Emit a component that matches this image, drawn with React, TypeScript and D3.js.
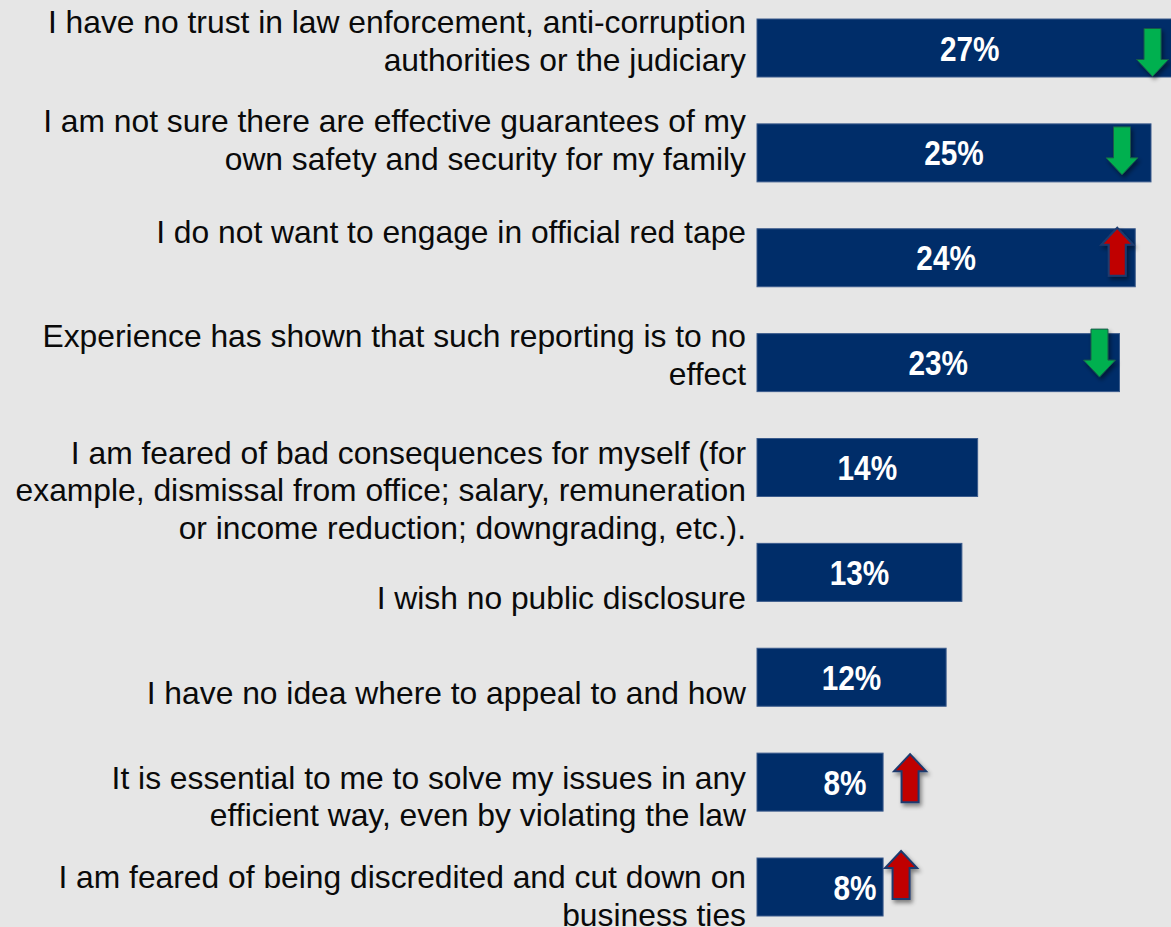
import React from "react";
import * as d3 from "d3";

const categories: string[][] = [
  ["I have no trust in law enforcement, anti-corruption", "authorities or the judiciary"],
  ["I am not sure there are effective guarantees of my", "own safety and security for my family"],
  ["I do not want to engage in official red tape"],
  ["Experience has shown that such reporting is to no", "effect"],
  ["I am feared of bad consequences for myself (for", "example, dismissal from office; salary, remuneration", "or income reduction; downgrading, etc.)."],
  ["I wish no public disclosure"],
  ["I have no idea where to appeal to and how"],
  ["It is essential to me to solve my issues in any", "efficient way, even by violating the law"],
  ["I am feared of being discredited and cut down on", "business ties"],
];
const values: number[] = [27, 25, 24, 23, 14, 13, 12, 8, 8];
const valueLabels: string[] = ["27%", "25%", "24%", "23%", "14%", "13%", "12%", "8%", "8%"];
const trends: (string | null)[] = ["down", "down", "up", "down", null, null, null, "up", "up"];

// layout tweaks (pixels)
const labelDy = [-26, -32, -26, -27, -15, 25, 15, -5, -10];
const valueDx = [0, 0, 0, 0, 0, 0, 0, 25, 35];
const arrowDx = [-30, -29, -18, -20, 0, 0, 0, 27, 18];
const arrowDy = [4.5, -2, -6, -9.5, 0, 0, 0, -4, -12];

const W = 1171;
const H = 927;
const BAR = "#002d69";

function arrowPath(cx: number, cy: number, dir: string) {
  const w = 32, h = 48, hh = 17, sw = 17;
  const s = dir === "down" ? 1 : -1;
  const top = cy - (s * h) / 2;
  const neck = cy + s * (h / 2 - hh);
  const tip = cy + (s * h) / 2;
  return [
    [cx - sw / 2, top],
    [cx + sw / 2, top],
    [cx + sw / 2, neck],
    [cx + w / 2, neck],
    [cx, tip],
    [cx - w / 2, neck],
    [cx - sw / 2, neck],
  ]
    .map((p, i) => (i === 0 ? "M" : "L") + p[0] + "," + p[1])
    .join("") + "Z";
}

export default function App() {
  const x = d3.scaleLinear().domain([0, 25]).range([757, 1151]);
  const y = d3
    .scaleBand<number>()
    .domain(values.map((_, i) => i))
    .range([19, 916])
    .paddingInner(0.447)
    .paddingOuter(0);
  const bw = y.bandwidth();

  return (
    <svg
      width={W}
      height={H}
      style={{ position: "absolute", left: 0, top: 0, background: "#e6e6e6" }}
    >
      <defs>
        <filter id="sh" x="-50%" y="-50%" width="200%" height="200%">
          <feDropShadow dx="2" dy="3" stdDeviation="2" floodColor="#000" floodOpacity="0.45" />
        </filter>
      </defs>
      <rect width={W} height={H} fill="#e6e6e6" />
      {values.map((v, i) => {
        const y0 = y(i)!;
        const cy = y0 + bw / 2;
        const x1 = x(v);
        const lines = categories[i];
        const lx = (x(0) + x1) / 2 + valueDx[i];
        return (
          <g key={i}>
            <rect x={x(0)} y={y0} width={x1 - x(0)} height={bw} fill={BAR} stroke="#3b5b8c" strokeWidth={1} />
            <text
              transform={`translate(${lx},${cy}) scale(0.85,1)`}
              dy="0.36em"
              textAnchor="middle"
              fill="#fff"
              fontFamily="'Liberation Sans', Arial, sans-serif"
              fontWeight="bold"
              fontSize={35}
            >
              {valueLabels[i]}
            </text>
            {lines.map((ln, j) => (
              <text
                key={j}
                x={746}
                y={cy + labelDy[i] + j * 37.5}
                dy="0.36em"
                textAnchor="end"
                fill="#0a0a0a"
                fontFamily="'Liberation Sans', Arial, sans-serif"
                fontSize={31.8}
              >
                {ln}
              </text>
            ))}
            {trends[i] && (
              <path
                d={arrowPath(x1 + arrowDx[i], cy + arrowDy[i], trends[i]!)}
                fill={trends[i] === "up" ? "#c00000" : "#00b050"}
                stroke={trends[i] === "up" ? "#1f3a6e" : "#1a5a4a"}
                strokeWidth={trends[i] === "up" ? 2 : 1}
                filter="url(#sh)"
              />
            )}
          </g>
        );
      })}
    </svg>
  );
}
